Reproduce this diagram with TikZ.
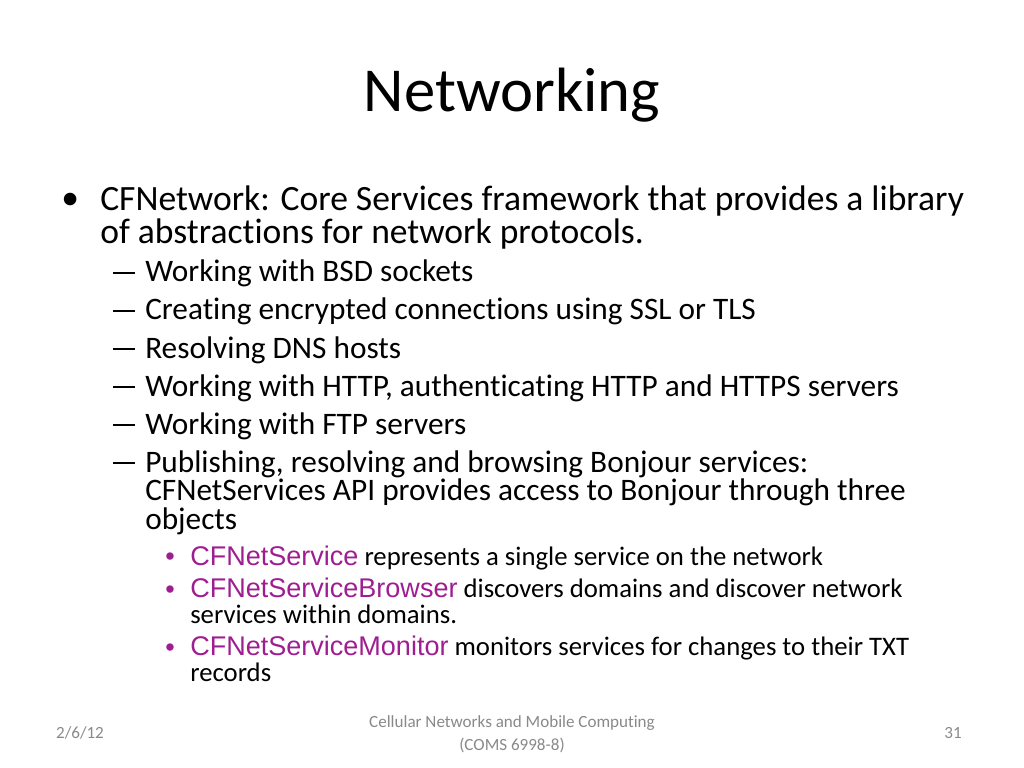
\documentclass[tikz,border=0pt]{standalone}
\usepackage{fontspec}
\setmainfont{Carlito}[Ligatures={NoCommon}]
\newfontfamily\arialfont{Liberation Sans}
\definecolor{apimag}{RGB}{158,30,145}
\definecolor{footgray}{RGB}{137,137,137}
\newcommand{\apiname}[1]{{\arialfont\color{apimag}\fontsize{19}{17.6}\selectfont #1}}
\tikzset{
	title/.style={anchor=base,font=\fontsize{44}{52}\selectfont},
	itemA/.style={anchor=base west,inner sep=0pt,align=left,font=\fontsize{25}{23.9}\selectfont},
	itemB/.style={anchor=base west,inner sep=0pt,align=left,font=\fontsize{22}{20}\selectfont},
	itemC/.style={anchor=base west,inner sep=0pt,align=left,font=\fontsize{18.8}{17.6}\selectfont},
	api/.style={text=apimag,font=\arialfont\fontsize{19}{22}\selectfont},
	foot/.style={anchor=base,text=footgray,align=center,font=\fontsize{12}{16}\selectfont},
}
\begin{document}
\begin{tikzpicture}[x=0.703125pt,y=-0.703125pt]
	\useasboundingbox (0,0) rectangle (1024,768);
	\node[title] (head) at (512,112) {Networking};
	% level 1 (multi-line nodes sit on the baseline of their last line)
	\node[itemA] (dotA) at (61,210) {\textbullet};
	\node[itemA] (cf) at (100,244) {CFNetwork: Core Services framework that provides a library\\of abstractions for network protocols.};
	% level 2
	\foreach \y/\txt [count=\i] in {282/Working with BSD sockets,
		320/Creating encrypted connections using SSL or TLS,
		358/Resolving DNS hosts,
		396/{Working with HTTP, authenticating HTTP and HTTPS servers},
		434/Working with FTP servers}{
		\node[itemB] (dash\i) at (113,\y) {\rule[5.6pt]{15.5pt}{1.1pt}};
		\node[itemB] (sub\i) at (145,\y) {\txt};
	}
	\node[itemB] (dash6) at (113,472) {\rule[5.6pt]{15.5pt}{1.1pt}};
	\node[itemB] (sub6) at (145,529) {Publishing, resolving and browsing Bonjour services:\\CFNetServices API provides access to Bonjour through three\\objects};
	% level 3
	\node[itemC,api] (dotC1) at (165,565) {\textbullet};
	\node[itemC] (srv) at (190,565) {\apiname{CFNetService} represents a single service on the network};
	\node[itemC,api] (dotC2) at (165,598) {\textbullet};
	\node[itemC] (brw) at (190,623) {\apiname{CFNetServiceBrowser} discovers domains and discover network\\services within domains.};
	\node[itemC,api] (dotC3) at (165,656) {\textbullet};
	\node[itemC] (mon) at (190,681) {\apiname{CFNetServiceMonitor} monitors services for changes to their TXT\\records};
	% footer
	\node[foot] (date) at (80,738) {2/6/12};
	\node[foot] (course) at (512,750) {Cellular Networks and Mobile Computing\\(COMS 6998-8)};
	\node[foot] (page) at (953,738) {31};
\end{tikzpicture}
\end{document}
